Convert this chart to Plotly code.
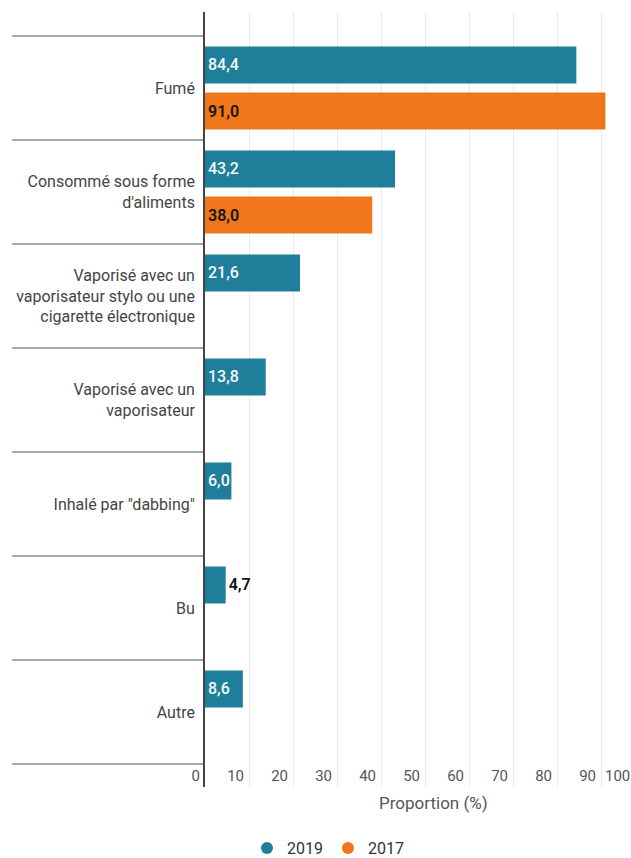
import plotly.graph_objects as go

# Mode de consommation du cannabis
categories = [
    "Fumé",
    "Consommé sous forme<br>d'aliments",
    "Vaporisé avec un<br>vaporisateur stylo ou une<br>cigarette électronique",
    "Vaporisé avec un<br>vaporisateur",
    "Inhalé par \"dabbing\"",
    "Bu",
    "Autre",
]
values_2019 = [84.4, 43.2, 21.6, 13.8, 6.0, 4.7, 8.6]
values_2017 = [91.0, 38.0, None, None, None, None, None]
x_ticks = [0, 10, 20, 30, 40, 50, 60, 70, 80, 90]

TEAL = "#1f7f9a"
ORANGE = "#ef761a"
FONT = "Roboto"

W, H = 631, 858
ML, MR, MT, MB = 205, 0, 12, 71
PX_PER_UNIT = 4.4
plot_w = W - ML - MR
plot_h = H - MT - MB
x_max = plot_w / PX_PER_UNIT

n = len(categories)
idx = list(range(n))

fig = go.Figure()

pos_2019 = ["outside" if v < 5 else "inside" for v in values_2019]
fig.add_trace(go.Bar(
    y=idx, x=values_2019, orientation="h", name="2019",
    marker=dict(color=TEAL, line=dict(width=0)),
    texttemplate="%{x:.1f}", textposition=pos_2019, textangle=0,
    insidetextanchor="start",
    insidetextfont=dict(family=FONT, size=16, color="#f2f8fa", weight=500),
    outsidetextfont=dict(family=FONT, size=16, color="#111111", weight=600),
    cliponaxis=False, showlegend=False, hoverinfo="skip",
))
fig.add_trace(go.Bar(
    y=idx, x=values_2017, orientation="h", name="2017",
    marker=dict(color=ORANGE, line=dict(width=0)),
    texttemplate="%{x:.1f}", textposition="inside", textangle=0,
    insidetextanchor="start",
    insidetextfont=dict(family=FONT, size=16, color="#151515", weight=600),
    showlegend=False, hoverinfo="skip",
))

# legend entries drawn as circles
for name, col in [("2019", TEAL), ("2017", ORANGE)]:
    fig.add_trace(go.Scatter(
        x=[None], y=[None], mode="markers", name=name,
        marker=dict(color=col, size=14, symbol="circle"),
    ))

# separators between categories in the label column
shapes = []
for k in range(n + 1):
    shapes.append(dict(
        type="line", xref="paper", yref="y",
        x0=(12 - ML) / plot_w, x1=0, y0=k - 0.5, y1=k - 0.5,
        line=dict(color="#555555", width=1),
    ))

annotations = [
    dict(text="Proportion (%)", xref="paper", yref="paper",
         x=(433 - ML) / plot_w, y=-16 / plot_h, xanchor="center", yanchor="middle",
         showarrow=False, font=dict(family=FONT, size=17, color="#555555")),
    dict(text="100", xref="paper", yref="paper",
         x=(603 - ML) / plot_w, y=11 / plot_h, xanchor="left", yanchor="middle",
         showarrow=False, font=dict(family=FONT, size=15, color="#555555")),
]

fig.update_layout(
    width=W, height=H,
    margin=dict(l=ML, r=MR, t=MT, b=MB, pad=0),
    paper_bgcolor="white", plot_bgcolor="white",
    font=dict(family=FONT, size=16, color="#444444"),
    separators=", ",
    barmode="group", bargap=0.115, bargroupgap=0.196,
    uniformtext=dict(minsize=16, mode="show"),
    shapes=shapes, annotations=annotations,
    showlegend=True,
    legend=dict(
        orientation="h", xref="container", yref="container",
        x=328 / W, xanchor="center", y=(H - 848) / H, yanchor="middle",
        font=dict(family=FONT, size=16, color="#333333"),
        itemsizing="constant", traceorder="normal",
    ),
    xaxis=dict(
        range=[0, x_max], tickvals=x_ticks, ticktext=[str(t) for t in x_ticks],
        showgrid=True, gridcolor="#ebebeb", gridwidth=1,
        zeroline=False, showline=False, ticks="",
        ticklabelposition="inside left", ticklabeloverflow="allow",
        ticklabelshift=-5, ticklabelstandoff=-3,
        tickfont=dict(family=FONT, size=15, color="#555555"),
    ),
    yaxis=dict(
        tickvals=idx, ticktext=categories,
        range=[n - 1 + 0.5 + 23 / 104, -0.5 - 24 / 104],
        showgrid=False, zeroline=False,
        showline=True, linecolor="#444444", linewidth=1.8,
        ticks="", ticklabelstandoff=5,
        tickfont=dict(family=FONT, size=16, color="#444444"),
    ),
)

fig.write_html("out.html")
